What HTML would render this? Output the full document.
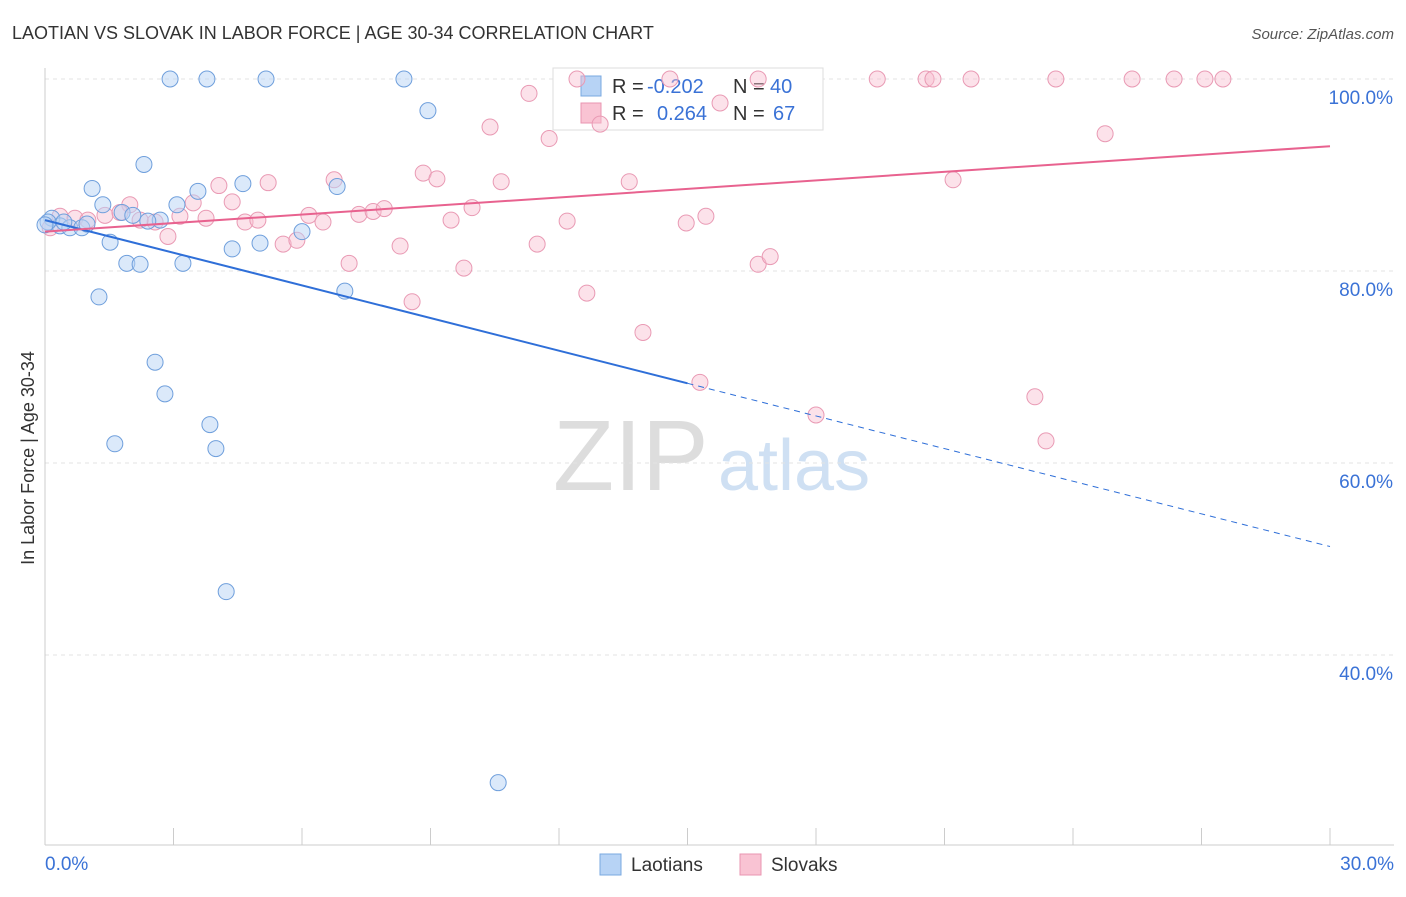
<!DOCTYPE html>
<html><head><meta charset="utf-8"><style>
body{margin:0;background:#fff;font-family:"Liberation Sans",sans-serif}
svg text{font-family:"Liberation Sans",sans-serif}
</style></head><body>
<svg id="c" width="1406" height="892">
<text x="12" y="39" font-size="18" fill="#333">LAOTIAN VS SLOVAK IN LABOR FORCE | AGE 30-34 CORRELATION CHART</text>
<text x="1394" y="39" font-size="15" fill="#555" text-anchor="end" font-style="italic">Source: ZipAtlas.com</text>
<text x="34" y="458" font-size="18" fill="#333" text-anchor="middle" transform="rotate(-90 34 458)">In Labor Force | Age 30-34</text>
<text x="553" y="490" font-size="100" fill="#ddd" font-family="Liberation Serif">ZIP</text>
<text x="718" y="490" font-size="72" fill="#cfe0f3">atlas</text>
<g id="grid"></g>
<g>
<rect x="553" y="68" width="270" height="62" fill="#fff" stroke="#ddd"/>
<rect x="581" y="76" width="20" height="20" fill="#b7d3f5" stroke="#7aa8e0"/>
<text x="612" y="93" font-size="20" fill="#333">R =</text>
<text x="647" y="93" font-size="20" fill="#3a72d6">-0.202</text>
<text x="733" y="93" font-size="20" fill="#333">N =</text>
<text x="770" y="93" font-size="20" fill="#3a72d6">40</text>
<rect x="581" y="103" width="20" height="20" fill="#f9c3d3" stroke="#e995b0"/>
<text x="612" y="120" font-size="20" fill="#333">R =</text>
<text x="657" y="120" font-size="20" fill="#3a72d6">0.264</text>
<text x="733" y="120" font-size="20" fill="#333">N =</text>
<text x="773" y="120" font-size="20" fill="#3a72d6">67</text>
</g>
<g id="pts"></g><g id="lines"></g>
<g>
<rect x="600" y="854" width="21" height="21" fill="#b7d3f5" stroke="#7aa8e0"/>
<text x="631" y="871" font-size="19" fill="#333">Laotians</text>
<rect x="740" y="854" width="21" height="21" fill="#f9c3d3" stroke="#e995b0"/>
<text x="771" y="871" font-size="19" fill="#333">Slovaks</text>
</g>
</svg>
<script>
const xTicks=[0,3,6,9,12,15,18,21,24,27,30];
const yTicks=[100,80,60,40];
const yTickLabels=["100.0%","80.0%","60.0%","40.0%"];
const laoX=[2.92,3.78,5.16,8.38,8.94,2.31,1.10,3.57,4.62,6.82,1.35,3.08,1.80,2.05,2.69,2.40,0.16,0.35,0.58,0.86,0.98,1.52,4.37,5.02,6.00,1.91,2.22,3.22,1.26,7.00,2.57,2.80,1.63,3.85,3.99,4.23,10.58,0.07,0.44,0.0];
const laoY=[100,100,100,100,96.7,91.1,88.6,88.3,89.1,88.8,86.9,86.9,86.1,85.8,85.3,85.2,85.5,84.7,84.5,84.5,84.9,83.0,82.3,82.9,84.1,80.8,80.7,80.8,77.3,77.9,70.5,67.2,62.0,64.0,61.5,46.6,26.7,85.1,85.1,84.8];
const slvX=[12.42,14.59,16.65,19.43,20.57,20.73,21.62,23.6,25.38,26.36,27.08,27.5,11.30,15.76,10.39,12.96,11.77,24.75,8.83,9.15,10.65,6.75,5.21,4.06,13.64,21.2,3.46,4.37,1.98,1.40,1.75,0.35,0.70,1.00,3.15,3.76,4.67,4.97,6.16,6.49,7.33,7.66,7.92,9.48,9.97,12.19,15.43,14.97,2.87,5.56,5.88,8.29,11.49,7.10,9.78,16.65,16.93,12.65,8.57,13.96,15.29,18.0,23.11,23.37,0.12,2.57,2.22];
const slvY=[100,100,100,100,100,100,100,100,100,100,100,100,98.5,97.5,95.0,95.3,93.8,94.3,90.2,89.6,89.3,89.5,89.2,88.9,89.3,89.5,87.1,87.2,86.9,85.8,86.1,85.7,85.5,85.3,85.7,85.5,85.1,85.3,85.8,85.1,85.9,86.2,86.5,85.3,86.6,85.2,85.7,85.0,83.6,82.8,83.2,82.6,82.8,80.8,80.3,80.7,81.5,77.7,76.8,73.6,68.4,65.0,66.9,62.3,84.5,85.1,85.3];
const laoTrend=[85.3,51.3];
const slvTrend=[84.1,93.0];
const X=v=>45+v*(1285/30), Y=v=>79+(100-v)*9.6;
const NS="http://www.w3.org/2000/svg";
function mk(t,a,p){const e=document.createElementNS(NS,t);for(const k in a)e.setAttribute(k,a[k]);p.appendChild(e);return e;}
const g=document.getElementById('grid');
yTicks.forEach((v,i)=>{
 const l=mk('line',{x1:45,x2:1394,y1:Y(v),y2:Y(v),stroke:'#e3e3e3','stroke-dasharray':'4 4'},g);
 
 
 const t=mk('text',{x:1393,y:Y(v)+25,'font-size':19,fill:'#3a72d6','text-anchor':'end'},g);t.textContent=yTickLabels[i];
 
 
});
mk('line',{x1:45,x2:45,y1:68,y2:845,stroke:'#ccc'},g);
mk('line',{x1:45,x2:1394,y1:845,y2:845,stroke:'#ccc'},g);
xTicks.forEach(v=>{const l=mk('line',{x1:X(v),x2:X(v),y1:828,y2:845,stroke:'#ccc'},g);
 
 });
let t=mk('text',{x:45,y:870,'font-size':19,fill:'#3a72d6'},g);t.textContent='0.0%';


t=mk('text',{x:1394,y:870,'font-size':19,fill:'#3a72d6','text-anchor':'end'},g);t.textContent='30.0%';


const p=document.getElementById('pts');
slvX.forEach((x,i)=>{const c=mk('circle',{cx:X(x),cy:Y(slvY[i]),r:8,fill:'rgba(249,190,208,0.45)',stroke:'#e99ab4','stroke-width':1},p);
 
 });
laoX.forEach((x,i)=>{const c=mk('circle',{cx:X(x),cy:Y(laoY[i]),r:8,fill:'rgba(183,211,245,0.5)',stroke:'#6f9fdc','stroke-width':1},p);
 
 });
const L=document.getElementById('lines');
const lr=v=>laoTrend[0]+(laoTrend[1]-laoTrend[0])*v/30;
let e=mk('line',{x1:X(0),y1:Y(lr(0)),x2:X(15),y2:Y(lr(15)),stroke:'#2f6fd8','stroke-width':2},L);


e=mk('line',{x1:X(15),y1:Y(lr(15)),x2:X(30),y2:Y(lr(30)),stroke:'#2f6fd8','stroke-width':1,'stroke-dasharray':'6 5'},L);


e=mk('line',{x1:X(0),y1:Y(slvTrend[0]),x2:X(30),y2:Y(slvTrend[1]),stroke:'#e8628f','stroke-width':2},L);


</script>
</body></html>
